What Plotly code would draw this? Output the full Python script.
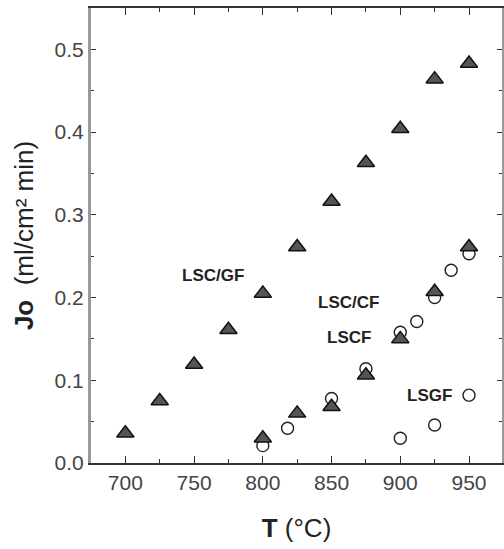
import plotly.graph_objects as go

# LSC/GF (filled triangles)
gf_T = [700, 725, 750, 775, 800, 825, 850, 875, 900, 925, 950]
gf_J = [0.036, 0.075, 0.119, 0.161, 0.205, 0.261, 0.316, 0.363, 0.404, 0.464, 0.483]

# LSC/CF (filled triangles)
cf_T = [800, 825, 850, 875, 900, 925, 950]
cf_J = [0.030, 0.060, 0.068, 0.106, 0.150, 0.207, 0.261]

# LSCF (open circles)
lscf_T = [800, 818, 850, 875, 900, 912, 925, 937, 950]
lscf_J = [0.021, 0.042, 0.078, 0.114, 0.158, 0.171, 0.200, 0.233, 0.253]

# LSGF (open circles)
lsgf_T = [900, 925, 950]
lsgf_J = [0.030, 0.046, 0.082]

labels = ["LSC/GF", "LSC/CF", "LSCF", "LSGF"]
label_x = [764, 862, 863, 921]
label_y = [0.227, 0.194, 0.152, 0.081]

fig = go.Figure()
tri = dict(symbol="triangle-up", size=15, color="#555", line=dict(color="#111", width=1.5))
circ = dict(symbol="circle-open", size=12, color="#222", line=dict(width=1.4))

fig.add_trace(go.Scatter(x=lscf_T, y=lscf_J, mode="markers", marker=circ, name="LSCF"))
fig.add_trace(go.Scatter(x=lsgf_T, y=lsgf_J, mode="markers", marker=circ, name="LSGF"))
fig.add_trace(go.Scatter(x=gf_T, y=gf_J, mode="markers", marker=tri, name="LSC/GF"))
fig.add_trace(go.Scatter(x=cf_T, y=cf_J, mode="markers", marker=tri, name="LSC/CF"))

for t, x, y in zip(labels, label_x, label_y):
    fig.add_annotation(x=x, y=y, text="<b>" + t + "</b>", showarrow=False,
                       font=dict(family="Liberation Sans, Arial", size=17, color="#222"))

fig.update_layout(
    width=504, height=549,
    margin=dict(l=91, r=2, t=8, b=86),
    paper_bgcolor="white", plot_bgcolor="white",
    showlegend=False,
    font=dict(family="Liberation Sans, Arial", size=21, color="#444"),
)
fig.update_xaxes(
    range=[675, 974], tickvals=[700, 750, 800, 850, 900, 950],
    ticks="inside", ticklen=7, tickwidth=1.2, tickcolor="#333",
    minor=dict(ticks="inside", tickvals=[725, 775, 825, 875, 925], ticklen=4, tickcolor="#333"),
    showline=True, linecolor="#333", linewidth=2, mirror="allticks",
    showgrid=False, zeroline=False, automargin=False,
    title=dict(text="<b>T</b> (°C)", font=dict(size=26, color="#222"), standoff=26),
)
fig.update_yaxes(
    range=[0, 0.55], tickvals=[0.0, 0.1, 0.2, 0.3, 0.4, 0.5], ticktext=["0.0", "0.1", "0.2", "0.3", "0.4", "0.5"],
    ticks="inside", ticklen=5, tickwidth=1.2, tickcolor="#333",
    minor=dict(ticks="inside", tickvals=[0.05, 0.15, 0.25, 0.35, 0.45], ticklen=3, tickcolor="#333"),
    showline=True, linecolor="#999", linewidth=3, mirror="allticks",
    showgrid=False, zeroline=False, automargin=False,
    title=dict(text="<b>Jo</b>  (ml/cm² min)", font=dict(size=26, color="#222"), standoff=14),
)

fig.write_html("out.html", config={"displayModeBar": False},
               post_script="document.body.style.margin='0';document.body.style.overflow='hidden';")
